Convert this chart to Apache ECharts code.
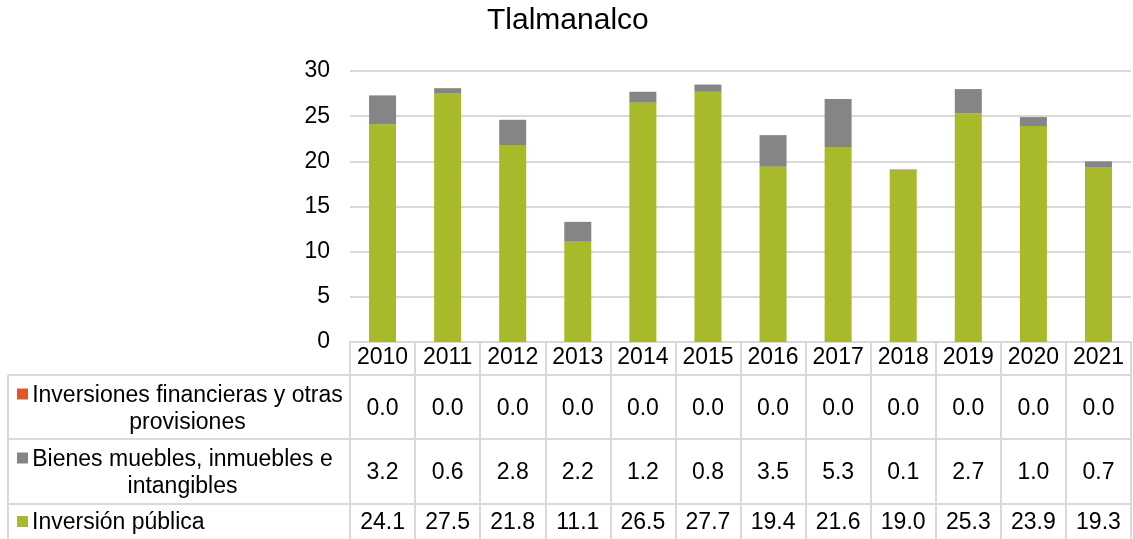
<!DOCTYPE html>
<html>
<head>
<meta charset="utf-8">
<title>Tlalmanalco</title>
<script src="https://cdn.jsdelivr.net/npm/echarts@6/dist/echarts.min.js"></script>
<style>
  html, body { margin: 0; padding: 0; background: #fff; }
  #chart { width: 1133px; height: 539px; }
</style>
</head>
<body>
<div id="chart"></div>
<script>
// datos
const years = ['2010', '2011', '2012', '2013', '2014', '2015', '2016', '2017', '2018', '2019', '2020', '2021']
const financieras = [0.0, 0.0, 0.0, 0.0, 0.0, 0.0, 0.0, 0.0, 0.0, 0.0, 0.0, 0.0]
const bienes = [3.2, 0.6, 2.8, 2.2, 1.2, 0.8, 3.5, 5.3, 0.1, 2.7, 1.0, 0.7]
const inversion = [24.1, 27.5, 21.8, 11.1, 26.5, 27.7, 19.4, 21.6, 19.0, 25.3, 23.9, 19.3]
const yTicks = [0, 5, 10, 15, 20, 25, 30]

const names = ['Inversiones financieras y otras\nprovisiones', 'Bienes muebles, inmuebles e\nintangibles', 'Inversión pública']
const colors = ['#E2542A', '#858585', '#A8B92A']

const FONT = "'Liberation Sans', Arial, sans-serif"
const FS = 23
const lineColor = '#D9D9D9'

// layout de la tabla
const gridLeft = 350
const gridRight = 2
const axisY = 342
const tableLeft = 8
const rowLines = [375, 439, 504]
const rowCenters = [409, 473, 523]
const labelCenters = [187.5, 182.5]
const LH = 27

const chart = echarts.init(document.getElementById('chart'))

// filas de la tabla: un eje x extra por serie
const rowAxis = (arr, i) => ({
  type: 'category',
  gridIndex: 0,
  position: 'bottom',
  data: years,
  axisLine: { show: false },
  axisTick: { show: false },
  axisLabel: {
    interval: 0,
    margin: rowCenters[i] - axisY,
    verticalAlign: 'middle',
    fontSize: FS,
    color: '#000',
    fontFamily: FONT,
    formatter: (v, idx) => arr[idx].toFixed(1)
  }
})

const graphic = []
rowLines.forEach(y => {
  graphic.push({
    type: 'line',
    shape: { x1: tableLeft, y1: y, x2: 1133 - gridRight, y2: y },
    style: { stroke: lineColor, lineWidth: 2 },
    silent: true
  })
})
graphic.push({
  type: 'line',
  shape: { x1: tableLeft, y1: rowLines[0], x2: tableLeft, y2: 539 },
  style: { stroke: lineColor, lineWidth: 2 },
  silent: true
})
names.forEach((n, i) => {
  const multi = n.indexOf('\n') >= 0
  const firstLine = multi ? rowCenters[i] - LH / 2 : rowCenters[i]
  graphic.push({
    type: 'rect',
    shape: { x: 17, y: firstLine - 7, width: 11, height: 11 },
    style: { fill: colors[i] },
    silent: true
  })
  graphic.push({
    type: 'text',
    x: multi ? labelCenters[i] : 32,
    y: rowCenters[i],
    style: {
      text: n,
      fontSize: FS,
      fontFamily: FONT,
      fill: '#000',
      align: multi ? 'center' : 'left',
      verticalAlign: 'middle',
      lineHeight: LH
    },
    silent: true
  })
})

const option = {
  animation: false,
  textStyle: { fontFamily: FONT },
  title: {
    text: 'Tlalmanalco',
    left: 482,
    top: 1,
    textStyle: { fontSize: 30, fontWeight: 'normal', color: '#000', fontFamily: FONT }
  },
  grid: { left: gridLeft, right: gridRight, top: 71, bottom: 539 - axisY, containLabel: false },
  xAxis: [
    {
      type: 'category',
      data: years,
      axisLine: { show: true, lineStyle: { color: lineColor, width: 2 } },
      axisTick: { show: true, interval: 0, length: 539 - axisY, lineStyle: { color: lineColor, width: 2 } },
      axisLabel: { interval: 0, margin: 16, verticalAlign: 'middle', fontSize: FS, color: '#000', fontFamily: FONT }
    },
    rowAxis(financieras, 0),
    rowAxis(bienes, 1),
    rowAxis(inversion, 2)
  ],
  yAxis: {
    type: 'value',
    min: yTicks[0],
    max: yTicks[yTicks.length - 1],
    interval: 5,
    axisLine: { show: false },
    axisTick: { show: false },
    axisLabel: { margin: 20, fontSize: FS, color: '#000', fontFamily: FONT },
    splitLine: { lineStyle: { color: lineColor, width: 2 } }
  },
  series: [
    { name: names[2], type: 'bar', stack: 'total', barWidth: 27, data: inversion, itemStyle: { color: colors[2] } },
    { name: names[1], type: 'bar', stack: 'total', barWidth: 27, data: bienes, itemStyle: { color: colors[1] } },
    { name: names[0], type: 'bar', stack: 'total', barWidth: 27, data: financieras, itemStyle: { color: colors[0] } }
  ],
  graphic: graphic
}

chart.setOption(option)
</script>
</body>
</html>
